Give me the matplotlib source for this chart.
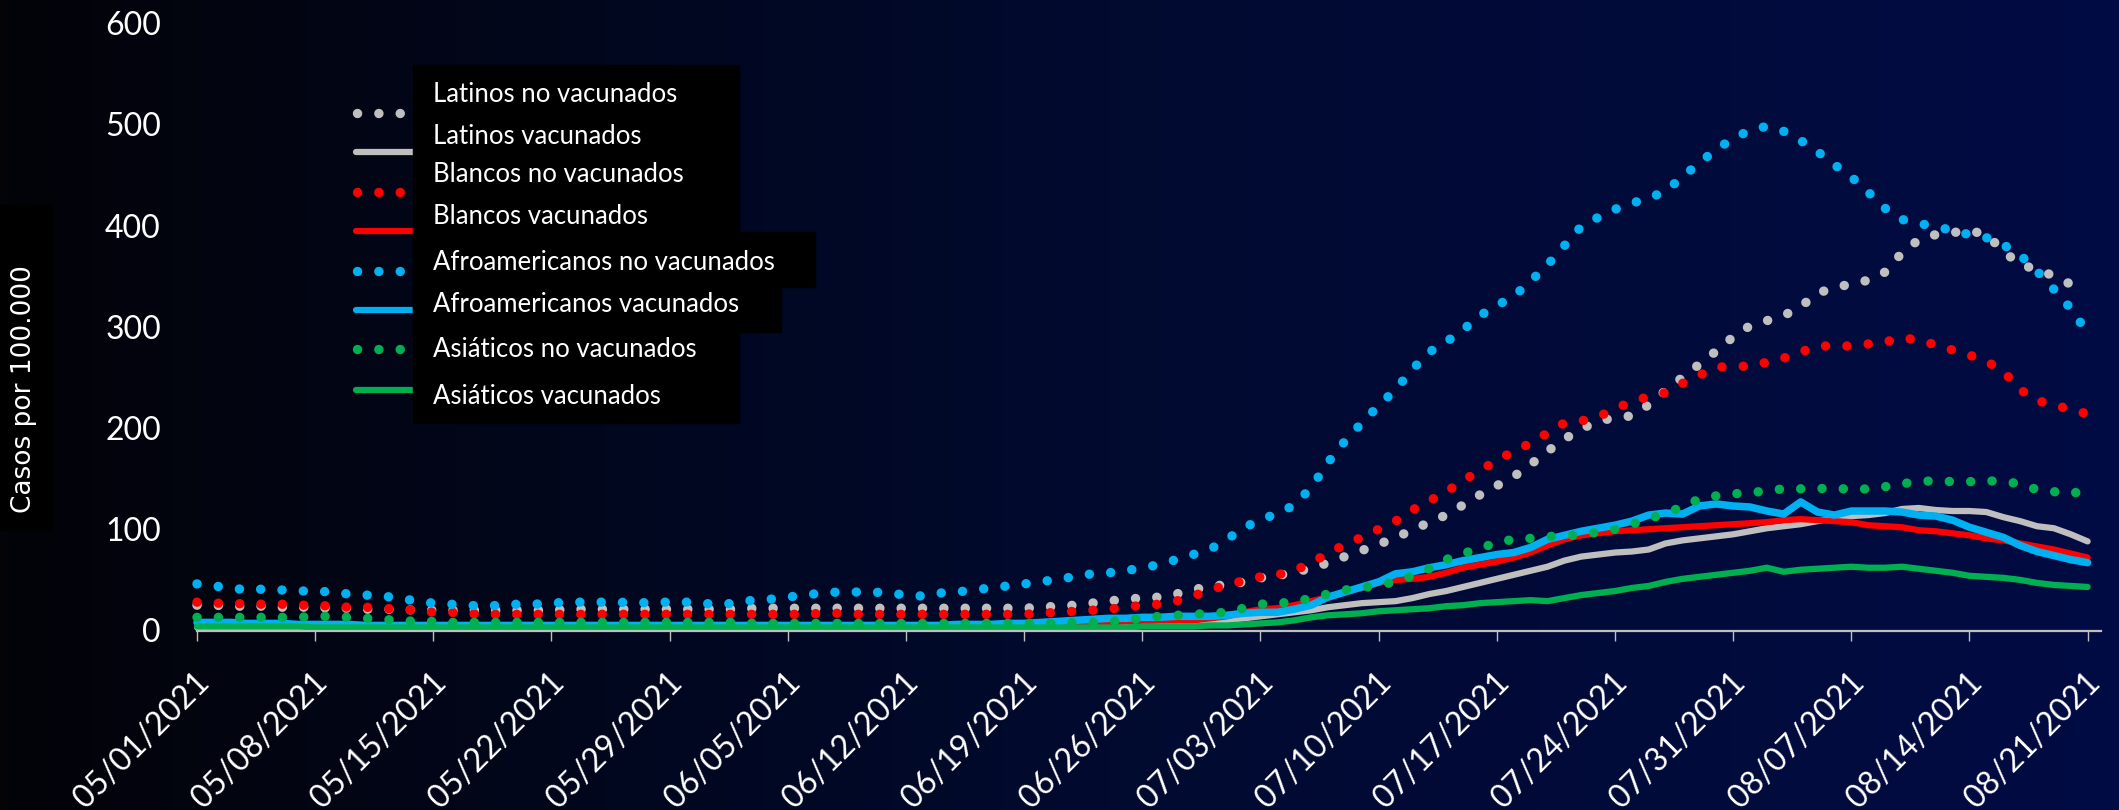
import matplotlib
matplotlib.use("Agg")
import matplotlib.pyplot as plt
import matplotlib.transforms as mtransforms
from matplotlib.colors import LinearSegmentedColormap
from matplotlib.patches import Rectangle
from matplotlib.lines import Line2D
import numpy as np
import pandas as pd

# fechas diarias 05/01/2021 - 08/21/2021
dates = pd.date_range("2021-05-01", "2021-08-21", freq="D")
tick_dates = dates[::7]
tick_labels = [d.strftime("%m/%d/%Y") for d in tick_dates]
y_ticks = [0, 100, 200, 300, 400, 500, 600]

latinos_no_vac = [
    25, 25, 24, 24, 24, 23, 23, 23, 22, 22,
    21, 21, 21, 20, 20, 20, 20, 20, 20, 20,
    20, 20, 21, 21, 21, 21, 21, 21, 21, 21,
    21, 21, 21, 22, 22, 22, 22, 22, 22, 22,
    22, 22, 22, 22, 22, 22, 22, 22, 22, 22,
    23, 24, 25, 27, 29, 31, 32, 33, 36, 40,
    44, 45, 48, 52, 54, 58, 61, 67, 73, 79,
    85, 92, 99, 107, 114, 124, 134, 143, 152, 164,
    177, 189, 199, 207, 210, 212, 223, 237, 250, 263,
    276, 290, 301, 306, 311, 320, 333, 339, 342, 346,
    354, 373, 386, 391, 393, 395, 391, 375, 361, 357,
    350, 342, 336]
latinos_vac = [
    3, 3, 3, 3, 3, 3, 3, 3, 3, 3,
    2, 2, 2, 2, 2, 2, 2, 2, 2, 2,
    2, 2, 2, 2, 2, 2, 2, 2, 2, 2,
    2, 2, 2, 2, 2, 2, 2, 2, 2, 2,
    2, 2, 2, 2, 2, 3, 3, 3, 3, 4,
    4, 5, 5, 6, 6, 6, 7, 7, 7, 7,
    8, 10, 12, 14, 16, 18, 20, 23, 25, 27,
    28, 29, 32, 36, 39, 43, 47, 51, 55, 59,
    63, 69, 73, 75, 77, 78, 80, 86, 89, 91,
    93, 95, 98, 101, 103, 105, 108, 111, 113, 114,
    116, 120, 121, 119, 118, 118, 117, 112, 108, 103,
    101, 95, 88]
blancos_no_vac = [
    28, 27, 27, 26, 26, 26, 25, 25, 24, 23,
    23, 22, 21, 20, 18, 18, 17, 16, 16, 16,
    16, 16, 16, 16, 16, 16, 16, 16, 16, 16,
    16, 16, 16, 16, 16, 16, 16, 17, 17, 16,
    16, 16, 16, 16, 16, 16, 16, 16, 16, 16,
    17, 18, 19, 20, 21, 23, 25, 26, 29, 34,
    40, 45, 49, 53, 55, 59, 67, 76, 85, 92,
    100, 108, 119, 128, 137, 148, 158, 168, 177, 185,
    195, 205, 207, 211, 219, 226, 231, 235, 244, 252,
    260, 261, 261, 265, 269, 275, 281, 281, 281, 283,
    285, 289, 287, 282, 277, 272, 266, 256, 238, 227,
    223, 218, 214]
blancos_vac = [
    5, 5, 5, 5, 5, 5, 5, 5, 4, 4,
    4, 4, 4, 4, 4, 4, 4, 4, 4, 4,
    4, 4, 4, 4, 4, 4, 4, 4, 4, 4,
    4, 4, 4, 4, 4, 4, 4, 4, 4, 4,
    4, 4, 4, 4, 4, 5, 5, 5, 6, 6,
    6, 7, 7, 8, 8, 9, 9, 10, 10, 10,
    12, 14, 18, 21, 22, 25, 29, 33, 38, 42,
    47, 50, 51, 53, 57, 62, 65, 68, 72, 77,
    84, 90, 94, 96, 98, 99, 100, 101, 102, 103,
    104, 105, 106, 107, 109, 110, 109, 108, 107, 104,
    103, 102, 99, 98, 96, 94, 91, 89, 86, 83,
    80, 76, 72]
afro_no_vac = [
    46, 44, 42, 40, 41, 40, 39, 39, 38, 36,
    35, 34, 32, 29, 27, 26, 25, 24, 25, 26,
    26, 27, 28, 28, 28, 28, 27, 28, 28, 28,
    27, 25, 28, 30, 31, 33, 35, 37, 38, 38,
    38, 37, 35, 34, 37, 38, 40, 42, 44, 46,
    48, 51, 53, 56, 57, 59, 62, 65, 70, 75,
    80, 90, 101, 110, 115, 124, 141, 166, 187, 205,
    222, 238, 258, 275, 285, 297, 311, 321, 330, 345,
    361, 380, 399, 408, 416, 422, 427, 434, 448, 462,
    475, 486, 494, 498, 493, 484, 473, 460, 448, 433,
    417, 406, 402, 399, 395, 391, 388, 381, 371, 355,
    337, 318, 294]
afro_vac = [
    8, 8, 8, 7, 7, 7, 6, 6, 6, 6,
    5, 5, 5, 5, 5, 5, 5, 5, 5, 5,
    5, 5, 5, 5, 5, 5, 5, 5, 5, 5,
    5, 5, 5, 5, 5, 5, 5, 5, 5, 5,
    5, 5, 5, 5, 5, 6, 6, 6, 7, 7,
    8, 9, 10, 11, 12, 12, 13, 13, 14, 14,
    14, 15, 17, 18, 18, 21, 25, 33, 38, 43,
    48, 56, 58, 62, 65, 69, 72, 75, 77, 82,
    90, 94, 98, 101, 104, 108, 114, 116, 115, 123,
    125, 123, 122, 118, 115, 127, 117, 114, 118, 118,
    118, 117, 114, 113, 109, 102, 97, 92, 84, 78,
    74, 70, 67]
asiaticos_no_vac = [
    13, 13, 13, 13, 13, 13, 13, 14, 14, 13,
    12, 11, 10, 9, 9, 8, 8, 8, 8, 8,
    8, 8, 8, 8, 8, 8, 8, 8, 8, 8,
    8, 8, 8, 7, 7, 7, 7, 7, 7, 7,
    7, 7, 7, 7, 7, 7, 7, 7, 7, 7,
    7, 7, 8, 8, 9, 10, 12, 14, 15, 16,
    17, 18, 22, 26, 27, 28, 32, 36, 40, 42,
    45, 48, 54, 61, 70, 76, 81, 87, 90, 91,
    93, 93, 95, 97, 100, 105, 110, 116, 122, 130,
    133, 135, 136, 138, 140, 140, 140, 141, 139, 140,
    142, 145, 147, 148, 147, 147, 148, 147, 145, 139,
    137, 138, 132]
asiaticos_vac = [
    4, 4, 4, 4, 4, 4, 4, 3, 3, 3,
    3, 3, 3, 3, 3, 3, 3, 3, 3, 3,
    3, 3, 3, 3, 3, 3, 3, 3, 3, 3,
    3, 3, 3, 3, 3, 3, 3, 3, 3, 3,
    3, 3, 3, 3, 3, 3, 3, 3, 3, 3,
    3, 3, 3, 3, 3, 3, 4, 4, 4, 4,
    5, 5, 6, 7, 8, 10, 13, 15, 16, 17,
    19, 20, 21, 22, 24, 25, 27, 28, 29, 30,
    29, 32, 35, 37, 39, 42, 44, 48, 51, 53,
    55, 57, 59, 62, 58, 60, 61, 62, 63, 62,
    62, 63, 61, 59, 57, 54, 53, 52, 50, 47,
    45, 44, 43]

labels = ["Latinos no vacunados", "Latinos vacunados",
          "Blancos no vacunados", "Blancos vacunados",
          "Afroamericanos no vacunados", "Afroamericanos vacunados",
          "Asiáticos no vacunados", "Asiáticos vacunados"]
series = [latinos_no_vac, latinos_vac, blancos_no_vac, blancos_vac,
          afro_no_vac, afro_vac, asiaticos_no_vac, asiaticos_vac]
colors = ["#bfbfbf", "#bfbfbf", "#ff0000", "#ff0000",
          "#00b0f0", "#00b0f0", "#00b050", "#00b050"]
dotted = [True, False, True, False, True, False, True, False]

W, H = 2119, 810
fig = plt.figure(figsize=(W / 100, H / 100), dpi=100)


def fx(px):
    return px / W


def fy(py):
    return 1 - py / H


# fondo degradado negro -> azul marino
bg = fig.add_axes([0, 0, 1, 1], zorder=-10)
cmap = LinearSegmentedColormap.from_list("fondo", ["#030308", "#010a2e", "#020c44"])
bg.imshow(np.linspace(0, 1, 256).reshape(1, -1), aspect="auto", cmap=cmap,
          extent=[0, 1, 0, 1])
bg.axis("off")

ax = fig.add_axes([fx(197), fy(630.5), (2101 - 197) / W, (630.5 - 23) / H])
ax.set_facecolor("none")

DOT = (0, (0.01, 2.25))
for vals, c, is_dot in zip(series, colors, dotted):
    if is_dot:
        ax.plot(dates, vals, color=c, lw=6.8, linestyle=DOT,
                dash_capstyle="round", clip_on=False)
    else:
        lw = 5.4 if c == "#00b0f0" else 4.5
        ax.plot(dates, vals, color=c, lw=lw, solid_joinstyle="round",
                solid_capstyle="round", clip_on=False)

ax.set_ylim(0, 600)
ax.set_xlim(dates[0], dates[-1] + pd.Timedelta(hours=19))
ax.set_yticks(y_ticks)
ax.set_xticks(tick_dates)
ax.set_xticklabels(tick_labels)

for s in ["left", "top", "right"]:
    ax.spines[s].set_visible(False)
ax.spines["bottom"].set_color("#bfbfbf")
ax.spines["bottom"].set_linewidth(1.6)

ax.tick_params(axis="y", length=0, pad=26, labelsize=23, labelcolor="white")
ax.tick_params(axis="x", length=7, width=1, color="#bfbfbf", direction="out",
               pad=27, labelsize=23, labelcolor="white")
shift = mtransforms.ScaledTranslation(8 / 100, 0, fig.dpi_scale_trans)
for lab in ax.get_xticklabels():
    lab.set_rotation(45)
    lab.set_ha("right")
    lab.set_va("center")
    lab.set_rotation_mode("anchor")
    lab.set_family("Lato")
    lab.set_transform(lab.get_transform() + shift)
for lab in ax.get_yticklabels():
    lab.set_family("Lato")

# leyenda dibujada a mano (muestras + cajas negras)
handle_y = [113, 152, 192, 231, 271, 310, 349, 390]
text_y = [94, 137, 174, 217, 262, 305, 349, 397]
for c, is_dot, hy in zip(colors, dotted, handle_y):
    if is_dot:
        ln = Line2D([fx(357), fx(445)], [fy(hy), fy(hy)], color=c, lw=6.8,
                    linestyle=DOT, dash_capstyle="round")
    else:
        ln = Line2D([fx(356), fx(445)], [fy(hy), fy(hy)], color=c, lw=4.5,
                    solid_capstyle="round")
    ln.set_zorder(5)
    fig.add_artist(ln)

for (x0, y0, x1, y1) in [(413, 65, 739, 423), (413, 232, 815, 287), (413, 287, 781, 332)]:
    fig.add_artist(Rectangle((fx(x0), fy(y1)), (x1 - x0) / W, (y1 - y0) / H,
                             transform=fig.transFigure, color="black", zorder=6))

for lab, ty in zip(labels, text_y):
    fig.text(fx(433), fy(ty), lab, color="white", fontsize=18.5, family="Lato",
             ha="left", va="center", zorder=7)

# etiqueta del eje y con caja negra
fig.add_artist(Rectangle((fx(0), fy(530)), 52 / W, (530 - 205) / H,
                         transform=fig.transFigure, color="black", zorder=6))
fig.text(fx(24), fy(389), "Casos por 100.000", color="white", fontsize=19,
         family="DejaVu Sans", rotation=90, ha="center", va="center", zorder=7)

fig.savefig("out.png", dpi=100, facecolor="black")
